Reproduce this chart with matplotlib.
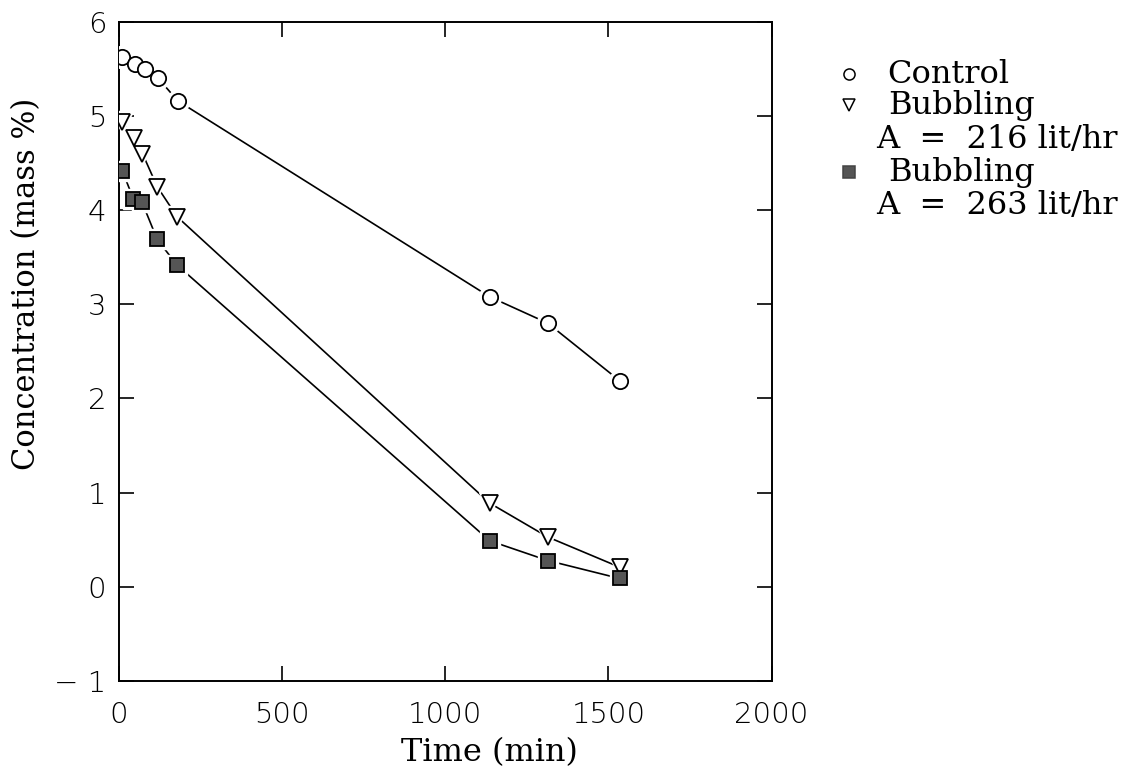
#!/usr/bin/env python3

import matplotlib
matplotlib.use('Agg')
import matplotlib.pyplot as plt

SERIF = 'DejaVu Serif'
SANS = 'DejaVu Sans'

# sampling times (min) and concentrations (mass %)
control_t = [10, 50, 80, 120, 180, 1136, 1314, 1534]
control_c = [5.62, 5.55, 5.50, 5.40, 5.16, 3.08, 2.80, 2.19]

bubble216_t = [10, 46, 72, 117, 178, 1136, 1314, 1534]
bubble216_c = [4.93, 4.77, 4.60, 4.25, 3.93, 0.89, 0.53, 0.21]

bubble263_t = [10, 44, 70, 117, 177, 1136, 1314, 1534]
bubble263_c = [4.42, 4.12, 4.09, 3.69, 3.42, 0.49, 0.28, 0.09]

x_ticks = [0, 500, 1000, 1500, 2000]
y_ticks = [-1, 0, 1, 2, 3, 4, 5, 6]

SQUARE_FILL = '#555555'

legend_rows = [
    ('o', 'white', 'Control', None),
    ('v', 'white', 'Bubbling', 'A  =  216 lit/hr'),
    ('s', SQUARE_FILL, 'Bubbling', 'A  =  263 lit/hr'),
]


def draw_series(ax, t, c, marker, face, size):
    ax.plot(t, c, color='black', linewidth=1.2, zorder=2)
    # white halo leaves a small gap between line and marker
    ax.plot(t, c, linestyle='none', marker=marker, markersize=size + 5,
            markerfacecolor='white', markeredgecolor='white', zorder=3)
    ax.plot(t, c, linestyle='none', marker=marker, markersize=size,
            markerfacecolor=face, markeredgecolor='black', markeredgewidth=1.3, zorder=4)


fig = plt.figure(figsize=(11.33, 7.74), dpi=100)
ax = fig.add_axes([0.105, 0.120, 0.576, 0.852])

draw_series(ax, control_t, control_c, 'o', 'white', 11)
draw_series(ax, bubble216_t, bubble216_c, 'v', 'white', 11)
draw_series(ax, bubble263_t, bubble263_c, 's', SQUARE_FILL, 9.5)

ax.set_xlim(0, 2000)
ax.set_ylim(-1, 6)
ax.set_xticks(x_ticks)
ax.set_yticks(y_ticks)
ax.set_xticklabels([str(v) for v in x_ticks], family=SANS, fontsize=21, fontweight='light')
ax.set_yticklabels([str(v).replace('-', '\u2212 ') for v in y_ticks], family=SANS,
                   fontsize=21, fontweight='light')
ax.tick_params(direction='in', length=11, width=1.2, top=True, right=True)
ax.tick_params(axis='x', pad=14)
ax.tick_params(axis='y', pad=9)
for spine in ax.spines.values():
    spine.set_linewidth(1.4)

ax.set_xlabel('Time (min)', family=SERIF, fontsize=23)
ax.set_ylabel('Concentration (mass %)', family=SERIF, fontsize=22)
ax.xaxis.set_label_coords(0.568, -0.085)
ax.yaxis.set_label_coords(-0.118, 0.602)

# legend drawn by hand, marker beside the first line of each entry
row_y = [0.920, 0.873, 0.772]
for (marker, face, first, second), y in zip(legend_rows, row_y):
    ax.plot([1.119], [y], transform=ax.transAxes, clip_on=False, linestyle='none',
            marker=marker, markersize=8, markerfacecolor=face,
            markeredgecolor='black' if face == 'white' else '#444444', markeredgewidth=1.1)
    ax.text(1.178, y, first, transform=ax.transAxes, family=SERIF, fontsize=23,
            ha='left', va='center')
    if second:
        ax.text(1.160, y - 0.051, second, transform=ax.transAxes, family=SERIF,
                fontsize=23, ha='left', va='center')

fig.savefig('out.png', dpi=100)
